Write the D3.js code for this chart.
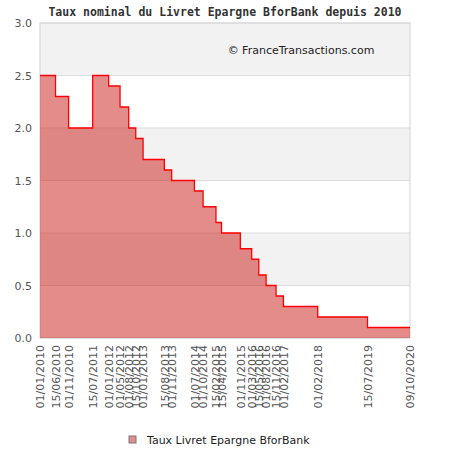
<!DOCTYPE html>
<html>
<head>
<meta charset="utf-8">
<script src="https://cdn.jsdelivr.net/npm/d3@7"></script>
<style>
  body { margin: 0; background: #fff; }
</style>
</head>
<body>
<div id="chart"></div>
<script>
// step dates (start of each rate) and rates
var dates = ["01/01/2010", "15/06/2010", "01/11/2010", "15/07/2011", "01/01/2012",
  "01/05/2012", "01/08/2012", "15/10/2012", "01/01/2013", "15/08/2013", "01/11/2013",
  "01/07/2014", "01/10/2014", "15/02/2015", "15/04/2015", "01/11/2015", "01/03/2016",
  "15/05/2016", "01/08/2016", "15/11/2016", "01/02/2017", "01/02/2018", "15/07/2019",
  "09/10/2020"];
var rates = [2.5, 2.3, 2.0, 2.5, 2.4, 2.2, 2.0, 1.9, 1.7, 1.6, 1.5, 1.4, 1.25, 1.1,
  1.0, 0.85, 0.75, 0.6, 0.5, 0.4, 0.3, 0.2, 0.1, 0.1];
var yTicks = [0, 0.5, 1.0, 1.5, 2.0, 2.5, 3.0];
var title = "Taux nominal du Livret Epargne BforBank depuis 2010";
var seriesName = "Taux Livret Epargne BforBank";

var svgWidth = 450;
var svgHeight = 450;
var margin = { top: 23, right: 40, bottom: 112, left: 40 };
var width = svgWidth - margin.left - margin.right;
var height = svgHeight - margin.top - margin.bottom;

var sans = "DejaVu Sans, sans-serif";
var mono = "DejaVu Sans Mono, monospace";

var parseDate = d3.timeParse("%d/%m/%Y");
var data = dates.map(function(d, i) {
  return { date: parseDate(d), label: d, rate: rates[i] };
});

var svg = d3.select("#chart")
  .append("svg")
  .attr("width", svgWidth)
  .attr("height", svgHeight)
  .style("font-family", sans);

var chartGroup = svg.append("g")
  .attr("transform", `translate(${margin.left}, ${margin.top})`);

var xScale = d3.scaleTime()
  .domain(d3.extent(data, d => d.date))
  .range([0, width]);

var yScale = d3.scaleLinear()
  .domain([0, 3])
  .range([height, 0]);

// alternating bands
var bands = d3.range(0, 3, 0.5);
chartGroup.selectAll(".band")
  .data(bands)
  .enter()
  .append("rect")
  .attr("x", 0)
  .attr("y", d => yScale(d + 0.5))
  .attr("width", width)
  .attr("height", d => yScale(d) - yScale(d + 0.5))
  .attr("fill", (d, i) => i % 2 ? "#f2f2f2" : "#ffffff");

// grid lines
chartGroup.selectAll(".grid")
  .data(yTicks)
  .enter()
  .append("line")
  .attr("x1", 0)
  .attr("x2", width)
  .attr("y1", d => yScale(d))
  .attr("y2", d => yScale(d))
  .attr("stroke", "#dddddd");

// frame
chartGroup.append("rect")
  .attr("width", width)
  .attr("height", height)
  .attr("fill", "none")
  .attr("stroke", "#d4d4d4");

// watermark
chartGroup.append("text")
  .attr("x", width / 2 + 76)
  .attr("y", 31)
  .attr("text-anchor", "middle")
  .style("font-family", sans)
  .style("font-size", "11px")
  .attr("fill", "#222")
  .text("\u00a9 FranceTransactions.com");

// area + step line
var area = d3.area()
  .curve(d3.curveStepAfter)
  .x(d => xScale(d.date))
  .y0(height)
  .y1(d => yScale(d.rate));

var line = d3.line()
  .curve(d3.curveStepAfter)
  .x(d => xScale(d.date))
  .y(d => yScale(d.rate));

chartGroup.append("path")
  .datum(data)
  .attr("d", area)
  .attr("fill", "rgb(201,25,21)")
  .attr("fill-opacity", 0.5);

chartGroup.append("path")
  .datum(data)
  .attr("d", line)
  .attr("fill", "none")
  .attr("stroke", "#ff0000")
  .attr("stroke-width", 1.3);

// y axis labels
var leftAxis = d3.axisLeft(yScale)
  .tickValues(yTicks)
  .tickFormat(d3.format(".1f"))
  .tickSize(0)
  .tickPadding(8);

var yAxisG = chartGroup.append("g").call(leftAxis);
yAxisG.select(".domain").remove();
yAxisG.selectAll("text")
  .style("font-size", "11px")
  .style("font-family", sans)
  .attr("fill", "#555");

// x axis labels
var bottomAxis = d3.axisBottom(xScale)
  .tickValues(data.map(d => d.date))
  .tickFormat(d3.timeFormat("%d/%m/%Y"))
  .tickSize(0);

var xAxisG = chartGroup.append("g")
  .attr("transform", `translate(0, ${height})`)
  .call(bottomAxis);
xAxisG.select(".domain").remove();
xAxisG.selectAll("text")
  .style("font-size", "11px")
  .style("font-family", sans)
  .attr("fill", "#555")
  .attr("text-anchor", "end")
  .attr("transform", "rotate(-90)")
  .attr("x", -7)
  .attr("y", 0)
  .attr("dy", "0.35em");

// title
svg.append("text")
  .attr("x", svgWidth / 2)
  .attr("y", 16)
  .attr("text-anchor", "middle")
  .style("font-family", mono)
  .style("font-weight", "bold")
  .style("font-size", "11.5px")
  .attr("fill", "#333")
  .text(title);

// legend
var legend = svg.append("g")
  .attr("transform", "translate(129, 436)");
legend.append("rect")
  .attr("width", 7)
  .attr("height", 7)
  .attr("fill", "rgb(201,25,21)")
  .attr("fill-opacity", 0.5)
  .attr("stroke", "#777");
legend.append("text")
  .attr("x", 18)
  .attr("y", 7.5)
  .style("font-size", "11px")
  .style("font-family", sans)
  .attr("fill", "#222")
  .text(seriesName);
</script>
</body>
</html>
